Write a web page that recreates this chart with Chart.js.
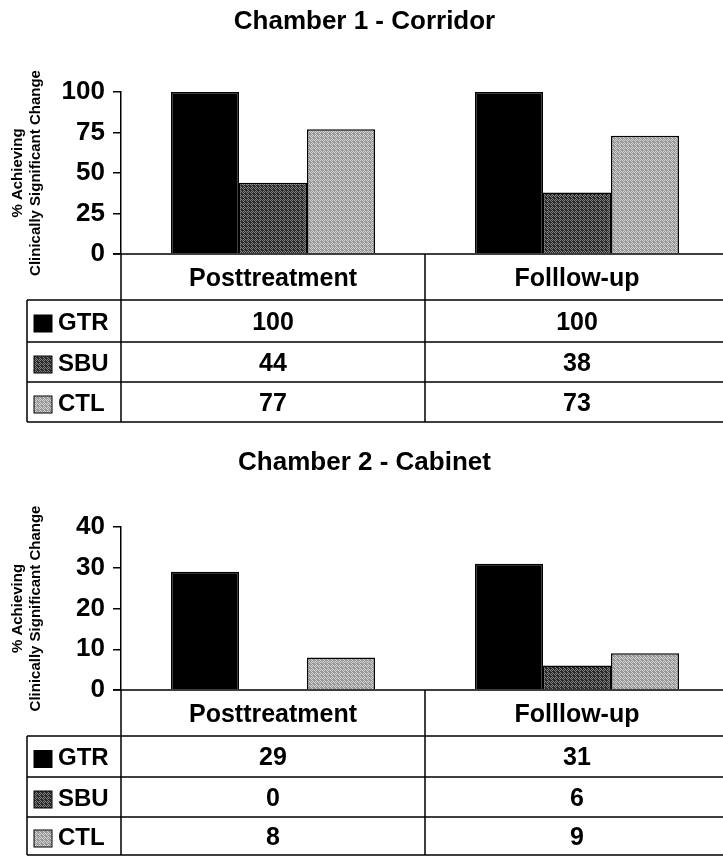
<!DOCTYPE html>
<html>
<head>
<meta charset="utf-8">
<script src="https://cdn.jsdelivr.net/npm/chart.js@4/dist/chart.umd.min.js"></script>
<style>
  html, body { margin: 0; padding: 0; background: #fff; overflow: hidden; }
  #wrap { width: 723px; height: 859px; overflow: hidden; position: relative; }
  canvas { display: block; }
</style>
</head>
<body>
<div id="wrap">
  <canvas id="c1" width="729" height="430"></canvas>
  <canvas id="c2" width="729" height="429"></canvas>
</div>
<script>
// ---- data ----
const categories = ['Posttreatment', 'Folllow-up'];
const seriesNames = ['GTR', 'SBU', 'CTL'];
const corridorTitle = 'Chamber 1 - Corridor';
const cabinetTitle = 'Chamber 2 - Cabinet';
const yAxisTitle = ['% Achieving', 'Clinically Significant Change'];
const corridorGTR = [100, 100];
const corridorSBU = [44, 38];
const corridorCTL = [77, 73];
const cabinetGTR = [29, 31];
const cabinetSBU = [0, 6];
const cabinetCTL = [8, 9];
const corridorTicks = [0, 25, 50, 75, 100];
const cabinetTicks = [0, 10, 20, 30, 40];

// ---- styles ----
const FONT = "'Liberation Sans', Arial, Helvetica, sans-serif";
Chart.defaults.font.family = FONT;
Chart.defaults.color = '#000';

function makePattern(base, dot) {
  const c = document.createElement('canvas');
  c.width = 4; c.height = 4;
  const g = c.getContext('2d');
  g.fillStyle = base; g.fillRect(0, 0, 4, 4);
  g.fillStyle = dot;
  [[0,0],[2,0],[1,1],[3,1],[0,2],[2,2],[1,3],[3,3]].forEach(([x,y], i) => {
    if (i % 3 !== 2) g.fillRect(x, y, 1, 1);
  });
  return g.createPattern(c, 'repeat');
}
const fills = ['#000000', makePattern('#2a2a2a', '#808080'), makePattern('#989898', '#d2d2d2')];

const tablePlugin = {
  id: 'dataTable',
  afterDraw(chart, args, opts) {
    const ctx = chart.ctx;
    const area = chart.chartArea;
    const xs = chart.scales.x;
    const left = opts.labelLeft;
    const axisX = area.left;
    const right = chart.width;
    const top = area.bottom;
    const hdrBottom = top + opts.headerHeight;
    const rowEdges = [hdrBottom];
    opts.rowHeights.forEach(h => rowEdges.push(rowEdges[rowEdges.length - 1] + h));
    const tableBottom = rowEdges[rowEdges.length - 1];
    const divider = (xs.getPixelForValue(0) + xs.getPixelForValue(1)) / 2;

    ctx.save();
    ctx.strokeStyle = '#000';
    ctx.lineWidth = 1.5;
    ctx.beginPath();
    ctx.moveTo(axisX - 8, top); ctx.lineTo(right, top);
    rowEdges.forEach(y => { ctx.moveTo(left, y); ctx.lineTo(right, y); });
    ctx.moveTo(left, hdrBottom); ctx.lineTo(left, tableBottom);
    ctx.moveTo(axisX, top); ctx.lineTo(axisX, tableBottom);
    ctx.moveTo(divider, top); ctx.lineTo(divider, tableBottom);
    ctx.stroke();

    ctx.fillStyle = '#000';
    ctx.textAlign = 'center';
    ctx.textBaseline = 'middle';
    ctx.font = 'bold 25px ' + FONT;
    chart.data.labels.forEach((lab, i) => {
      ctx.fillText(lab, xs.getPixelForValue(i), top + opts.headerHeight / 2 + 2);
    });
    chart.data.datasets.forEach((ds, r) => {
      const yc = (rowEdges[r] + rowEdges[r + 1]) / 2 + 2;
      ctx.fillStyle = fills[r];
      ctx.fillRect(left + 7, yc - 8, 18, 17);
      ctx.lineWidth = 1;
      ctx.strokeRect(left + 7, yc - 8, 18, 17);
      ctx.fillStyle = '#000';
      ctx.textAlign = 'left';
      ctx.font = 'bold 24px ' + FONT;
      ctx.fillText(ds.label, left + 31, yc);
      ctx.textAlign = 'center';
      ctx.font = 'bold 25px ' + FONT;
      ds.data.forEach((v, i) => {
        ctx.fillText(String(v), xs.getPixelForValue(i), yc);
      });
    });
    ctx.restore();
  }
};

function buildChart(id, title, series, ticks, lay) {
  return new Chart(document.getElementById(id), {
    type: 'bar',
    data: {
      labels: categories,
      datasets: seriesNames.map((n, i) => ({
        label: n,
        data: series[i],
        backgroundColor: fills[i],
        borderColor: '#000',
        borderWidth: 1.5,
        barPercentage: 1.0,
        categoryPercentage: 0.671
      }))
    },
    options: {
      responsive: false,
      animation: false,
      layout: { padding: { left: 0, right: 0, top: 0, bottom: lay.bottomPad } },
      plugins: {
        legend: { display: false },
        tooltip: { enabled: false },
        title: {
          display: true,
          text: title,
          color: '#000',
          font: { size: 26, weight: 'bold', lineHeight: 1.2 },
          padding: { top: lay.titleTop, bottom: lay.titleBottom }
        },
        dataTable: { labelLeft: 27, headerHeight: lay.headerHeight, rowHeights: lay.rowHeights }
      },
      scales: {
        x: { display: false },
        y: {
          min: ticks[0],
          max: ticks[ticks.length - 1],
          afterBuildTicks: s => { s.ticks = ticks.map(v => ({ value: v })); },
          afterFit: s => { s.width = 121; },
          ticks: { font: { size: 26, weight: 'bold' }, color: '#000', padding: 8 },
          grid: { drawOnChartArea: false, drawTicks: true, tickLength: 8, color: '#000', lineWidth: 1.5 },
          border: { display: true, color: '#000', width: 1.5 },
          title: {
            display: true,
            text: yAxisTitle,
            color: '#000',
            font: { size: 15, weight: 'bold', lineHeight: 1.2 },
            padding: { top: 9, bottom: 0 }
          }
        }
      }
    },
    plugins: [tablePlugin]
  });
}

buildChart('c1', corridorTitle, [corridorGTR, corridorSBU, corridorCTL], corridorTicks,
  { titleTop: 6.4, titleBottom: 54.4, bottomPad: 176, headerHeight: 46, rowHeights: [42, 40, 40] });
buildChart('c2', cabinetTitle, [cabinetGTR, cabinetSBU, cabinetCTL], cabinetTicks,
  { titleTop: 17.4, titleBottom: 48.4, bottomPad: 169, headerHeight: 46, rowHeights: [41, 40, 38] });
</script>
</body>
</html>
